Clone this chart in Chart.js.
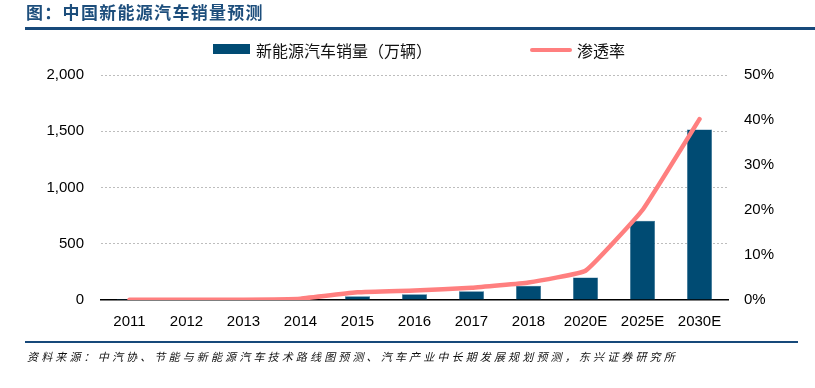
<!DOCTYPE html>
<html>
<head>
<meta charset="utf-8">
<script src="https://cdn.jsdelivr.net/npm/chart.js@4"></script>
<style>
  body { margin: 0; width: 815px; height: 388px; background: #fff; position: relative; overflow: hidden; font-family: "Noto Sans CJK SC", sans-serif; }
  #title { position: absolute; left: 26px; top: -1px; font-size: 17px; font-weight: bold; color: #1d4e7c; letter-spacing: 1.3px; }
  #rule1 { position: absolute; left: 25px; right: 0; top: 27px; height: 3px; background: #17497a; }
  #rule2 { position: absolute; left: 25px; width: 773px; top: 341px; height: 2px; background: #17497a; }
  #source { position: absolute; left: 27px; top: 348px; font-size: 11px; font-style: italic; letter-spacing: 3.15px; color: #111; white-space: nowrap; }
  .lg { position: absolute; top: 38px; font-size: 16px; color: #111; white-space: nowrap; }
  .sw { position: absolute; }
  #wrap { position: absolute; left: 0; top: 0; width: 815px; height: 388px; }
</style>
</head>
<body>
<div id="wrap"><canvas id="chart"></canvas></div>
<div id="title">图：中国新能源汽车销量预测</div>
<div id="rule1"></div>
<div class="sw" style="left:213px;top:44px;width:37px;height:10px;background:#004b73"></div>
<div class="lg" style="left:256px">新能源汽车销量（万辆）</div>
<div class="sw" style="left:530px;top:48px;width:42px;height:4px;background:#ff7f7f;border-radius:2px"></div>
<div class="lg" style="left:577px">渗透率</div>
<div id="rule2"></div>
<div id="source">资料来源：中汽协、节能与新能源汽车技术路线图预测、汽车产业中长期发展规划预测，东兴证券研究所</div>
<script>
const categories = ["2011","2012","2013","2014","2015","2016","2017","2018","2020E","2025E","2030E"];
const sales = [0.8, 1.3, 1.8, 7.5, 33, 51, 78, 126, 200, 705, 1515];
const penetration = [0.0004, 0.0007, 0.0008, 0.003, 0.017, 0.021, 0.027, 0.039, 0.065, 0.20, 0.402];
const leftTicks = [0, 500, 1000, 1500, 2000];
const rightTicks = [0, 0.1, 0.2, 0.3, 0.4, 0.5];

const tickFont = { family: "'Liberation Sans', Arial, sans-serif", size: 15 };

new Chart(document.getElementById('chart'), {
  data: {
    labels: categories,
    datasets: [
      { type: 'line', data: penetration, yAxisID: 'y1', borderColor: '#ff7f7f', borderWidth: 4.5,
        pointRadius: 0, tension: 0.1, borderCapStyle: 'round', order: 0 },
      { type: 'bar', data: sales, yAxisID: 'y', backgroundColor: '#004b73', borderColor: '#2a6a92',
        borderWidth: 0.5, barPercentage: 0.44, categoryPercentage: 1, order: 1 }
    ]
  },
  options: {
    responsive: true,
    maintainAspectRatio: false,
    animation: false,
    layout: { padding: { top: 75, left: 0, right: 0, bottom: 0 } },
    plugins: { legend: { display: false }, tooltip: { enabled: false } },
    scales: {
      x: {
        offset: true,
        grid: { display: false, drawTicks: false },
        border: { color: '#000', width: 1.5 },
        ticks: { color: '#000', font: tickFont, padding: 13, maxRotation: 0, autoSkip: false },
        afterFit: s => { s.height = 88; }
      },
      y: {
        position: 'left', min: 0, max: 2000,
        afterBuildTicks: s => { s.ticks = leftTicks.map(v => ({ value: v })); },
        grid: { drawTicks: false, color: c => c.tick.value === 0 ? 'rgba(0,0,0,0)' : '#bdbdbd', lineWidth: 1 },
        border: { display: false, dash: [2, 2] },
        ticks: { color: '#000', font: tickFont, padding: 17, callback: v => v.toLocaleString('en-US') },
        afterFit: s => { s.width = 101; }
      },
      y1: {
        position: 'right', min: 0, max: 0.5,
        afterBuildTicks: s => { s.ticks = rightTicks.map(v => ({ value: v })); },
        grid: { display: false, drawTicks: false },
        border: { display: false },
        ticks: { color: '#000', font: tickFont, padding: 16, callback: v => Math.round(v * 100) + '%' },
        afterFit: s => { s.width = 87; }
      }
    }
  }
});
</script>
</body>
</html>
